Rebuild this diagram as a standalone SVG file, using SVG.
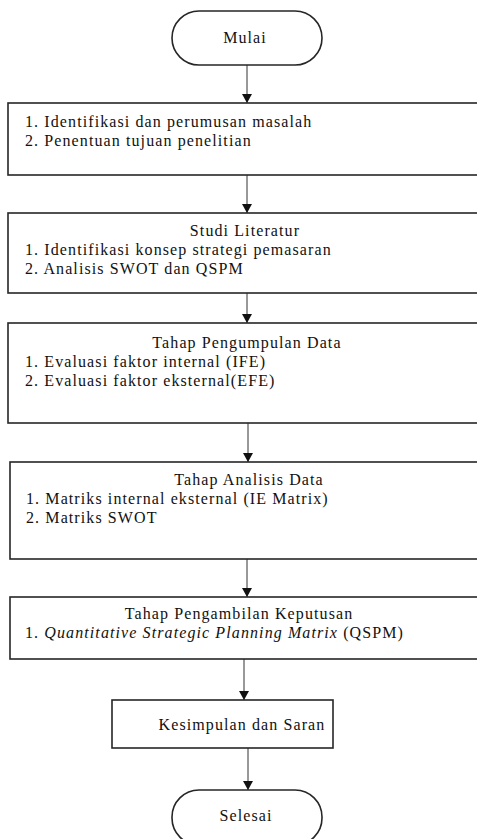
<svg xmlns="http://www.w3.org/2000/svg" width="477" height="839" viewBox="0 0 477 839">
<style>
.box{fill:#fff;stroke:#262626;stroke-width:1.6}
.t{font-family:"Liberation Serif","Times New Roman",serif;font-size:16px;fill:#111;letter-spacing:1.1px}
.c{text-anchor:middle}
.con{stroke:#333;stroke-width:1;fill:none;marker-end:url(#ah)}
</style>
<defs>
<marker id="ah" markerUnits="userSpaceOnUse" markerWidth="10" markerHeight="10" refX="9" refY="5" orient="auto">
<path d="M0,0 L9,5 L0,10 Z" fill="#111"/>
</marker>
</defs>
<rect width="477" height="839" fill="#fff"/>
<g id="connectors">
<line class="con" x1="247" y1="65" x2="247" y2="103"/>
<line class="con" x1="247" y1="175" x2="247" y2="213"/>
<line class="con" x1="247" y1="293" x2="247" y2="323"/>
<line class="con" x1="248" y1="423" x2="248" y2="462"/>
<line class="con" x1="247" y1="559" x2="247" y2="597"/>
<line class="con" x1="244" y1="659" x2="244" y2="700"/>
<line class="con" x1="248" y1="748" x2="248" y2="790"/>
</g>
<g id="mulai">
<rect class="box" x="172" y="11" width="150" height="54" rx="27" ry="27"/>
<text class="t c" x="245" y="43">Mulai</text>
</g>
<g id="identifikasi">
<rect class="box" x="8" y="103" width="490" height="72"/>
<text class="t" x="25" y="127">1. Identifikasi dan perumusan masalah</text>
<text class="t" x="25" y="146">2. Penentuan tujuan penelitian</text>
</g>
<g id="studi">
<rect class="box" x="8" y="213" width="490" height="80"/>
<text class="t c" x="245" y="236">Studi Literatur</text>
<text class="t" x="25" y="255">1. Identifikasi konsep strategi pemasaran</text>
<text class="t" x="25" y="274">2. Analisis SWOT dan QSPM</text>
</g>
<g id="pengumpulan">
<rect class="box" x="8" y="323" width="490" height="100"/>
<text class="t c" x="247" y="348">Tahap Pengumpulan Data</text>
<text class="t" x="25" y="367">1. Evaluasi faktor internal (IFE)</text>
<text class="t" x="25" y="386">2. Evaluasi faktor eksternal(EFE)</text>
</g>
<g id="analisis">
<rect class="box" x="10" y="462" width="490" height="97"/>
<text class="t c" x="249" y="485">Tahap Analisis Data</text>
<text class="t" x="26" y="504">1. Matriks internal eksternal (IE Matrix)</text>
<text class="t" x="26" y="523">2. Matriks SWOT</text>
</g>
<g id="keputusan">
<rect class="box" x="10" y="597" width="490" height="62"/>
<text class="t c" x="239" y="619">Tahap Pengambilan Keputusan</text>
<text class="t" x="25" y="638">1. <tspan font-style="italic">Quantitative Strategic Planning Matrix</tspan> (QSPM)</text>
</g>
<g id="kesimpulan">
<rect class="box" x="112" y="700" width="221" height="48"/>
<text class="t c" x="242" y="730">Kesimpulan dan Saran</text>
</g>
<g id="selesai">
<rect class="box" x="172" y="790" width="150" height="55" rx="27" ry="27"/>
<text class="t c" x="246" y="821">Selesai</text>
</g>
</svg>
